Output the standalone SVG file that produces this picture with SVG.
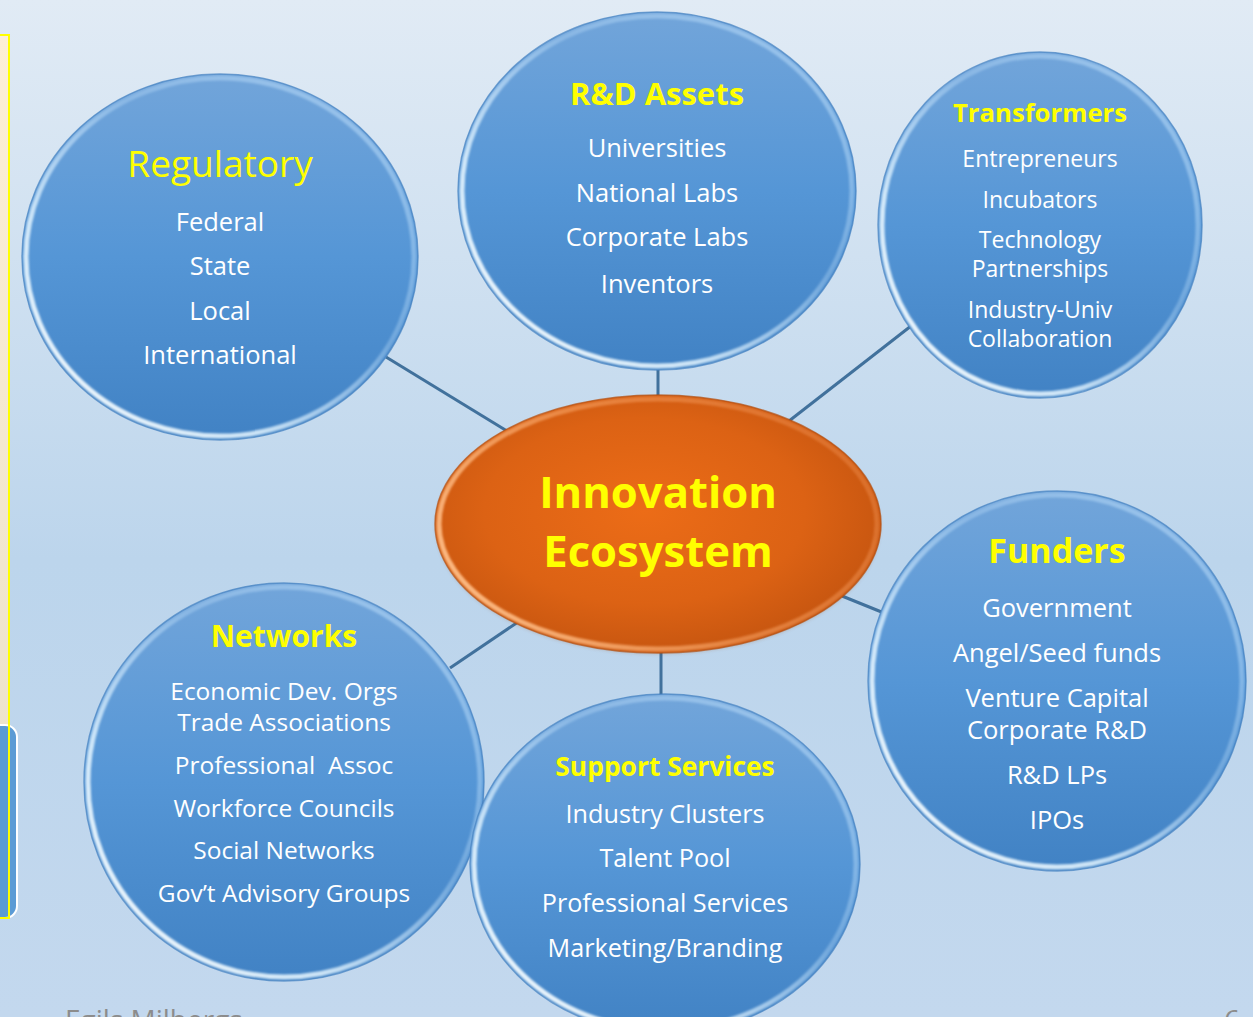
<svg xmlns="http://www.w3.org/2000/svg" width="1253" height="1017" viewBox="0 0 1253 1017">
  <defs>
    <linearGradient id="bg" x1="0" y1="0" x2="0" y2="1">
      <stop offset="0" stop-color="#e1ebf5"/>
      <stop offset="0.55" stop-color="#bcd5ec"/>
      <stop offset="1" stop-color="#c3d8ee"/>
    </linearGradient>
    <linearGradient id="beige" x1="0" y1="0" x2="0" y2="1">
      <stop offset="0" stop-color="#fdefd6"/>
      <stop offset="1" stop-color="#e9e0c9"/>
    </linearGradient>
    <linearGradient id="blueFill" x1="0" y1="0" x2="0" y2="1">
      <stop offset="0" stop-color="#72a5da"/>
      <stop offset="0.5" stop-color="#5596d6"/>
      <stop offset="1" stop-color="#4182c4"/>
    </linearGradient>
    <linearGradient id="rimBlue" x1="0" y1="1" x2="1" y2="0">
      <stop offset="0" stop-color="#ffffff" stop-opacity="1"/>
      <stop offset="0.3" stop-color="#e4f5ff" stop-opacity="0.85"/>
      <stop offset="0.6" stop-color="#c8e6ff" stop-opacity="0.3"/>
      <stop offset="1" stop-color="#c8e6ff" stop-opacity="0.55"/>
    </linearGradient>
    <radialGradient id="orangeFill" cx="0.47" cy="0.45" r="0.6">
      <stop offset="0" stop-color="#ec6c17"/>
      <stop offset="0.6" stop-color="#dc6214"/>
      <stop offset="1" stop-color="#c2530f"/>
    </radialGradient>
    <linearGradient id="rimOrange" x1="0" y1="0.7" x2="1" y2="0.3">
      <stop offset="0" stop-color="#ffc08a" stop-opacity="0.95"/>
      <stop offset="0.5" stop-color="#f7a060" stop-opacity="0.6"/>
      <stop offset="1" stop-color="#f09050" stop-opacity="0.4"/>
    </linearGradient>
    <filter id="soft" x="-5%" y="-5%" width="110%" height="110%">
      <feGaussianBlur stdDeviation="1.2"/>
    </filter>
    <filter id="shadow" x="-10%" y="-10%" width="120%" height="120%">
      <feGaussianBlur stdDeviation="2"/>
    </filter>
  </defs>
  <style>
    .ball { fill: url(#blueFill); }
    .edge { fill: none; stroke: #3d7cbd; stroke-width: 1.5; opacity: 0.7; }
    .rim { fill: none; stroke: url(#rimBlue); stroke-width: 5; filter: url(#soft); }
    .title { fill: #ffff00; font-family: "Open Sans", "Noto Sans", "Liberation Sans", sans-serif; text-anchor: middle; }
    .bold { font-weight: bold; }
    .item { fill: #ffffff; font-family: "Open Sans", "Noto Sans", "Liberation Sans", sans-serif; text-anchor: middle; }
    .conn { stroke: #41719c; stroke-width: 3; fill: none; }
    .footer { fill: #8c8c8c; font-family: "Open Sans", "Noto Sans", "Liberation Sans", sans-serif; }
  </style>

  <rect x="0" y="0" width="1253" height="1017" fill="url(#bg)"/>

  <g id="side-panel">
    <rect x="-2" y="35" width="11" height="883" fill="url(#beige)"/>
    <rect x="-20" y="725" width="37" height="193" rx="12" ry="12" fill="#5b9bd5" stroke="#ffffff" stroke-width="2"/>
    <rect x="-2" y="35" width="11" height="883" fill="none" stroke="#ffff00" stroke-width="2"/>
  </g>

  <g id="connectors">
    <line class="conn" x1="386" y1="357" x2="507" y2="431"/>
    <line class="conn" x1="658" y1="368" x2="658" y2="398"/>
    <line class="conn" x1="911" y1="326" x2="789" y2="421"/>
    <line class="conn" x1="842" y1="596" x2="884" y2="613"/>
    <line class="conn" x1="450" y1="668" x2="518" y2="622"/>
    <line class="conn" x1="661" y1="652" x2="661" y2="696"/>
  </g>

  <g id="regulatory">
    <ellipse class="ball" cx="220" cy="257" rx="198" ry="183"/>
    <ellipse class="edge" cx="220" cy="257" rx="198" ry="183"/>
    <ellipse class="rim" cx="220" cy="257" rx="194" ry="179"/>
    <text class="title" x="220" y="177" font-size="37">Regulatory</text>
    <text class="item" x="220" y="231" font-size="25.5">Federal</text>
    <text class="item" x="220" y="275" font-size="25.5">State</text>
    <text class="item" x="220" y="320" font-size="25.5">Local</text>
    <text class="item" x="220" y="364" font-size="25.5">International</text>
  </g>

  <g id="rd-assets">
    <ellipse class="ball" cx="657" cy="191" rx="199" ry="179"/>
    <ellipse class="edge" cx="657" cy="191" rx="199" ry="179"/>
    <ellipse class="rim" cx="657" cy="191" rx="195" ry="175"/>
    <text class="title bold" x="657" y="105" font-size="31">R&amp;D Assets</text>
    <text class="item" x="657" y="157" font-size="25.5">Universities</text>
    <text class="item" x="657" y="202" font-size="25.5">National Labs</text>
    <text class="item" x="657" y="246" font-size="25.5">Corporate Labs</text>
    <text class="item" x="657" y="293" font-size="25.5">Inventors</text>
  </g>

  <g id="transformers">
    <ellipse class="ball" cx="1040" cy="225" rx="162" ry="173"/>
    <ellipse class="edge" cx="1040" cy="225" rx="162" ry="173"/>
    <ellipse class="rim" cx="1040" cy="225" rx="158" ry="169"/>
    <text class="title bold" x="1040" y="122" font-size="25.7">Transformers</text>
    <text class="item" x="1040" y="167" font-size="23">Entrepreneurs</text>
    <text class="item" x="1040" y="208" font-size="23">Incubators</text>
    <text class="item" x="1040" y="248" font-size="23">Technology</text>
    <text class="item" x="1040" y="277" font-size="23">Partnerships</text>
    <text class="item" x="1040" y="318" font-size="23">Industry-Univ</text>
    <text class="item" x="1040" y="347" font-size="23">Collaboration</text>
  </g>

  <g id="funders">
    <ellipse class="ball" cx="1057" cy="681" rx="189" ry="190"/>
    <ellipse class="edge" cx="1057" cy="681" rx="189" ry="190"/>
    <ellipse class="rim" cx="1057" cy="681" rx="185" ry="186"/>
    <text class="title bold" x="1057" y="563" font-size="34">Funders</text>
    <text class="item" x="1057" y="617" font-size="25.5">Government</text>
    <text class="item" x="1057" y="662" font-size="25.5">Angel/Seed funds</text>
    <text class="item" x="1057" y="707" font-size="25.5">Venture Capital</text>
    <text class="item" x="1057" y="739" font-size="25.5">Corporate R&amp;D</text>
    <text class="item" x="1057" y="784" font-size="25.5">R&amp;D LPs</text>
    <text class="item" x="1057" y="829" font-size="25.5">IPOs</text>
  </g>

  <g id="networks">
    <ellipse class="ball" cx="284" cy="782" rx="200" ry="199"/>
    <ellipse class="edge" cx="284" cy="782" rx="200" ry="199"/>
    <ellipse class="rim" cx="284" cy="782" rx="196" ry="195"/>
    <text class="title bold" x="284" y="647" font-size="30">Networks</text>
    <text class="item" x="284" y="700" font-size="24.5">Economic Dev. Orgs</text>
    <text class="item" x="284" y="731" font-size="24.5">Trade Associations</text>
    <text class="item" x="284" y="774" font-size="24.5" xml:space="preserve">Professional  Assoc</text>
    <text class="item" x="284" y="817" font-size="24.5">Workforce Councils</text>
    <text class="item" x="284" y="859" font-size="24.5">Social Networks</text>
    <text class="item" x="284" y="902" font-size="24.5">Gov’t Advisory Groups</text>
  </g>

  <g id="support-services">
    <ellipse class="ball" cx="665" cy="864" rx="195" ry="170"/>
    <ellipse class="edge" cx="665" cy="864" rx="195" ry="170"/>
    <ellipse class="rim" cx="665" cy="864" rx="191" ry="166"/>
    <text class="title bold" x="665" y="776" font-size="26.4">Support Services</text>
    <text class="item" x="665" y="823" font-size="25.2">Industry Clusters</text>
    <text class="item" x="665" y="867" font-size="25.2">Talent Pool</text>
    <text class="item" x="665" y="912" font-size="25.2">Professional Services</text>
    <text class="item" x="665" y="957" font-size="25.2">Marketing/Branding</text>
  </g>

  <g id="innovation-ecosystem">
    <ellipse cx="658" cy="526" rx="221" ry="127" fill="#8a3a08" opacity="0.35" filter="url(#shadow)"/>
    <ellipse cx="658" cy="524" rx="223" ry="129" fill="url(#orangeFill)"/>
    <ellipse cx="658" cy="524" rx="223" ry="129" fill="none" stroke="#b04a0c" stroke-width="1.5" opacity="0.7"/>
    <ellipse cx="658" cy="524" rx="219" ry="125" fill="none" stroke="url(#rimOrange)" stroke-width="5" filter="url(#soft)"/>
    <text class="title bold" x="658" y="508" font-size="43.6">Innovation</text>
    <text class="title bold" x="658" y="567" font-size="43.6">Ecosystem</text>
  </g>

  <g id="footer">
    <text class="footer" x="65" y="1030" font-size="28">Egils Milbergs</text>
    <text class="footer" x="1224" y="1030" font-size="28">6</text>
  </g>
</svg>
